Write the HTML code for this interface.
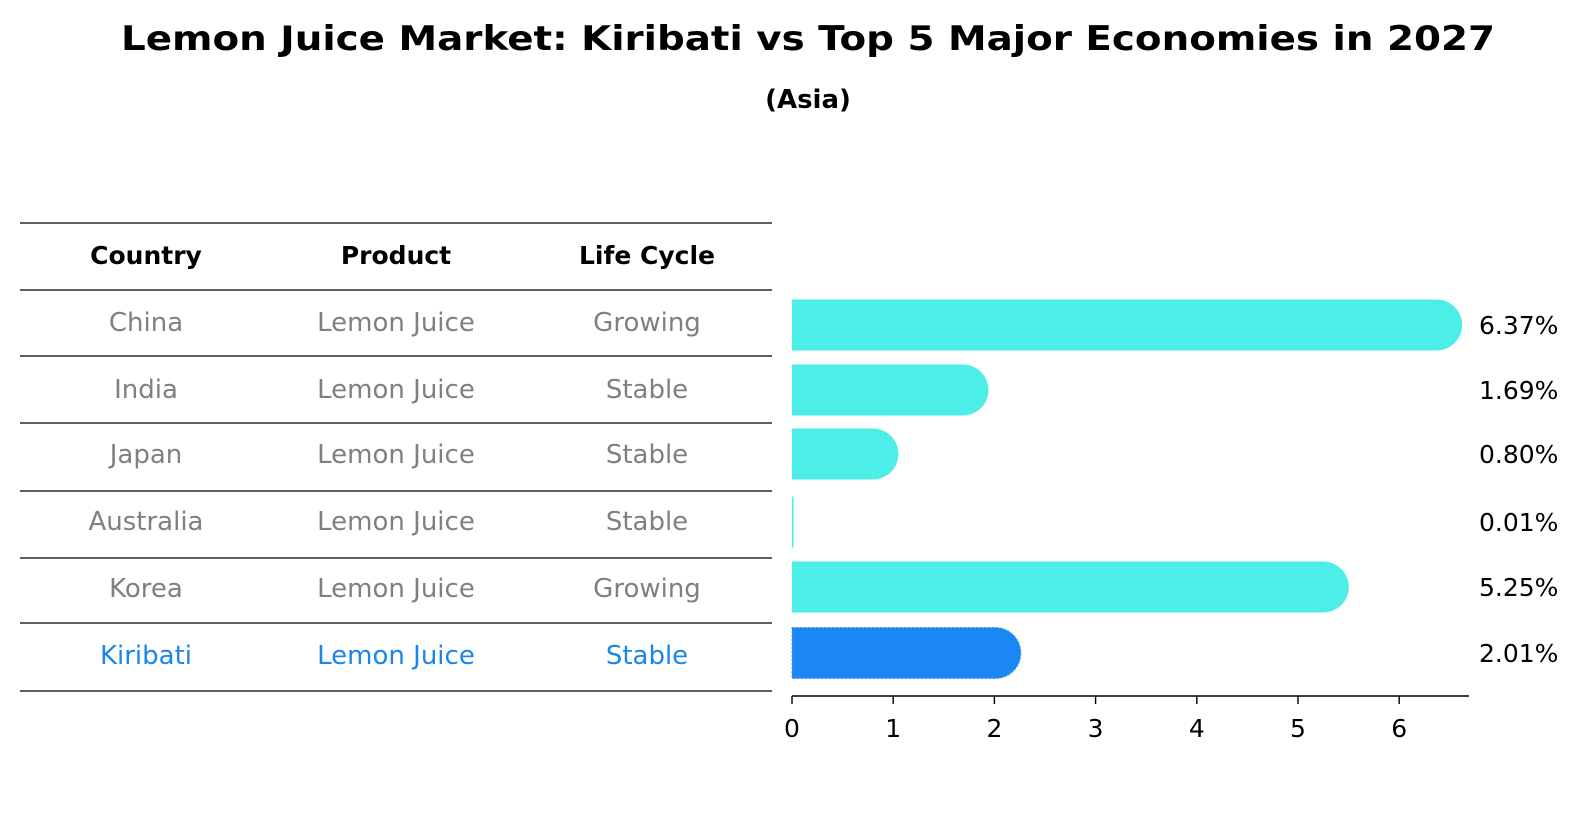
<!DOCTYPE html>
<html><head><meta charset="utf-8"><style>
body{margin:0;background:#fff;font-family:"DejaVu Sans","Liberation Sans",sans-serif;}
#root{position:relative;width:1586px;height:823px;overflow:hidden;background:#fff}
</style></head><body>
<div id="root">
<svg id="svg" width="1586" height="823" xmlns="http://www.w3.org/2000/svg" font-family="DejaVu Sans, Liberation Sans, sans-serif">
<text x="808" y="50" text-anchor="middle" font-size="34" font-weight="bold" textLength="1374" lengthAdjust="spacingAndGlyphs">Lemon Juice Market: Kiribati vs Top 5 Major Economies in 2027</text>
<text x="808" y="108" text-anchor="middle" font-size="26" font-weight="bold">(Asia)</text>
<g id="table"></g>
<g id="bars"></g>
</svg></div>
<script>
const countries=["China","India","Japan","Australia","Korea","Kiribati"];
const products=["Lemon Juice","Lemon Juice","Lemon Juice","Lemon Juice","Lemon Juice","Lemon Juice"];
const lifecycles=["Growing","Stable","Stable","Stable","Growing","Stable"];
const values=[6.37,1.69,0.80,0.01,5.25,2.01];
const valueLabels=["6.37%","1.69%","0.80%","0.01%","5.25%","2.01%"];
const ticks=[0,1,2,3,4,5,6];
const NS="http://www.w3.org/2000/svg";
function mk(t,a,p){const e=document.createElementNS(NS,t);for(const k in a)e.setAttribute(k,a[k]);p.appendChild(e);return e;}
const tbl=document.getElementById('table');
const lines=[223,290,356,423,491,558,623,691];
lines.forEach((y,i)=>{const l=mk('line',{x1:20,x2:772,y1:y,y2:y,stroke:'#000','stroke-width':1.2},tbl);

});
const colX=[146,396,647];
["Country","Product","Life Cycle"].forEach((h,i)=>{const t=mk('text',{x:colX[i],y:264,'text-anchor':'middle','font-size':25,'font-weight':'bold'},tbl);t.textContent=h;

});
const rowY=[322,389,454,521,588,655];
countries.forEach((c,i)=>{const col=c==="Kiribati"?"#1a87e6":"#808080";
[c,products[i],lifecycles[i]].forEach((v,j)=>{const t=mk('text',{x:colX[j],y:rowY[i]+9,'text-anchor':'middle','font-size':26,fill:col},tbl);t.textContent=v;

});});
const g=document.getElementById('bars');
const x0=792,ppu=101.2;const X=v=>x0+v*ppu;
const barY=[325,390,454,522,587,653];const bh=51,r=25.5;
values.forEach((v,i)=>{const k=countries[i]==="Kiribati";const col=k?"#1a87f5":"#4deee8";
const xe=X(v),yt=barY[i]-bh/2;
const d=v>0.05?`M${x0},${yt} H${xe} A${r},${r} 0 0 1 ${xe},${yt+bh} H${x0} Z`:`M${x0},${yt} H${x0+1.5} V${yt+bh} H${x0} Z`;
const p=mk('path',{d:d,fill:col},g);
if(k){p.setAttribute('stroke','#4a9de0');p.setAttribute('stroke-dasharray','2,2');p.setAttribute('stroke-width','1');}


const t=mk('text',{x:1479,y:barY[i]+9,'font-size':25},g);t.textContent=valueLabels[i];

});
const ax=mk('line',{x1:x0,x2:1469,y1:696,y2:696,stroke:'#000','stroke-width':1.4},g);


ticks.forEach(t=>{const l=mk('line',{x1:X(t),x2:X(t),y1:696,y2:704,stroke:'#000','stroke-width':1.4},g);


const tx=mk('text',{x:X(t),y:737,'text-anchor':'middle','font-size':25},g);tx.textContent=t;

});
</script>
</body></html>
